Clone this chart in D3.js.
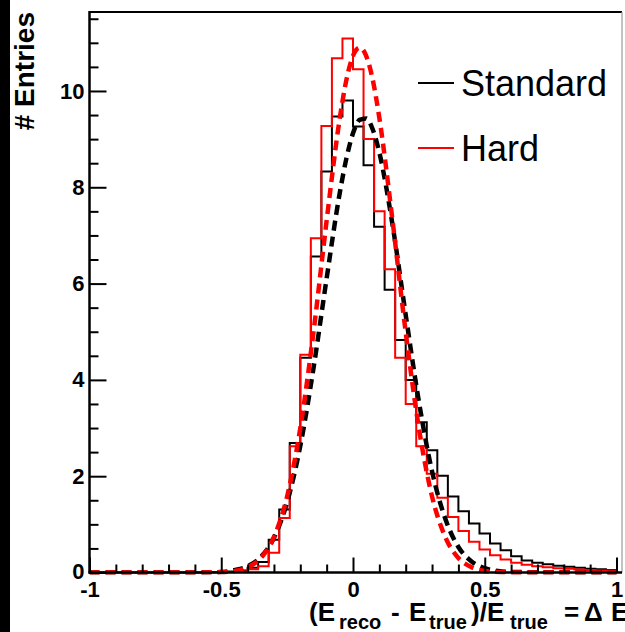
<!DOCTYPE html>
<html>
<head>
<meta charset="utf-8">
<script src="https://cdn.jsdelivr.net/npm/d3@7"></script>
<style>
  html, body { margin: 0; padding: 0; background: #fff; }
  svg { display: block; font-family: "Liberation Sans", Arial, Helvetica, sans-serif; }
</style>
</head>
<body>
<svg id="chart" width="625" height="632"></svg>
<script>
// Bin edges: 50 bins of width 0.04 over [-1, 1]
const binLow = d3.range(50).map(i => -1 + 0.04 * i);

// Entries per bin, standard reconstruction
const standardCounts = [
  0, 0, 0, 0, 0, 0, 0, 0, 0, 0,
  0, 0.01, 0.01, 0.02, 0.04, 0.10, 0.22, 0.68, 1.31, 2.69,
  4.46, 6.56, 8.33, 9.47, 9.80, 9.26, 8.46, 7.18, 5.87, 4.83,
  4.00, 3.12, 2.54, 2.01, 1.58, 1.27, 1.02, 0.81, 0.60, 0.46,
  0.34, 0.25, 0.20, 0.17, 0.14, 0.12, 0.10, 0.08, 0.07, 0.05
];

// Entries per bin, hard reconstruction
const hardCounts = [
  0, 0, 0, 0, 0, 0, 0, 0, 0, 0,
  0, 0, 0.01, 0.01, 0.02, 0.07, 0.13, 0.41, 1.13, 2.62,
  4.52, 6.94, 9.27, 10.68, 11.09, 10.45, 9.00, 7.50, 6.30, 4.46,
  3.50, 2.62, 2.05, 1.55, 1.15, 0.86, 0.64, 0.48, 0.36, 0.27,
  0.20, 0.16, 0.13, 0.11, 0.09, 0.08, 0.06, 0.05, 0.04, 0.04
];

// Fitted curves, sampled along the x axis
const fitX = [-1, -0.6, -0.5, -0.45, -0.4, -0.35, -0.3, -0.25, -0.2, -0.15, -0.1, -0.05,
              -0.025, 0, 0.025, 0.05, 0.075, 0.1, 0.15, 0.2, 0.25, 0.3, 0.35, 0.4, 0.45,
              0.5, 0.55, 0.6, 1];
const standardFit = [0, 0, 0.01, 0.05, 0.13, 0.32, 0.72, 1.46, 2.63, 4.24, 6.11, 7.89,
                     8.60, 9.12, 9.40, 9.43, 9.20, 8.72, 7.22, 5.35, 3.55, 2.10, 1.12, 0.53, 0.23,
                     0.09, 0.03, 0.01, 0];
const hardFit = [0, 0, 0.01, 0.03, 0.11, 0.30, 0.74, 1.58, 3.00, 4.99, 7.31, 9.44,
                 10.23, 10.73, 10.90, 10.73, 10.23, 9.44, 7.31, 4.99, 3.00, 1.58, 0.74, 0.30, 0.11,
                 0.03, 0.01, 0, 0];

const xMajor = [-1, -0.5, 0, 0.5, 1];
const xMinor = d3.range(-10, 11).map(i => i / 10);
const yMajor = [0, 2, 4, 6, 8, 10];
const yMinor = d3.range(0, 24).map(i => i / 2);

const legendLabels = ["Standard", "Hard"];
const colors = ["#000000", "#ff0000"];

const svg = d3.select("#chart");
const frameL = 89.5, frameR = 622, frameT = 12, frameB = 572.5;

const x = d3.scaleLinear().domain([-1, 1]).range([89.5, 616.5]);
const y = d3.scaleLinear().domain([0, 11.64]).range([frameB, frameT]);

// dark strip at the left edge
svg.append("rect").attr("x", 0).attr("y", 0).attr("width", 10).attr("height", 632).attr("fill", "#000");

svg.append("defs").append("clipPath").attr("id", "plotClip")
  .append("rect").attr("x", frameL).attr("y", frameT).attr("width", frameR - frameL).attr("height", frameB - frameT + 2);

const plot = svg.append("g").attr("clip-path", "url(#plotClip)");

// Histograms as step outlines
function stepPoints(counts) {
  const pts = binLow.map((b, i) => [b, counts[i]]);
  pts.push([1, counts[counts.length - 1]]);
  return pts;
}
const stepLine = d3.line().x(d => x(d[0])).y(d => y(d[1])).curve(d3.curveStepAfter);

[standardCounts, hardCounts].forEach((c, k) => {
  plot.append("path")
    .attr("d", stepLine(stepPoints(c)))
    .attr("fill", "none")
    .attr("stroke", colors[k])
    .attr("stroke-width", 2);
});

// Fit curves, dashed
const fitLine = d3.line().x(d => x(d[0])).y(d => y(d[1])).curve(d3.curveMonotoneX);
[standardFit, hardFit].forEach((f, k) => {
  plot.append("path")
    .attr("d", fitLine(fitX.map((v, i) => [v, f[i]])))
    .attr("fill", "none")
    .attr("stroke", colors[k])
    .attr("stroke-width", 4.5)
    .attr("stroke-dasharray", "10,6");
});

// Frame
svg.append("line").attr("x1", frameL).attr("x2", frameR).attr("y1", frameT).attr("y2", frameT)
  .attr("stroke", "#000").attr("stroke-width", 2);
svg.append("line").attr("x1", frameR).attr("x2", frameR).attr("y1", frameT).attr("y2", frameB)
  .attr("stroke", "#999").attr("stroke-width", 1.2);

// Y axis
const yAxisG = svg.append("g").attr("transform", `translate(${frameL},0)`);
yAxisG.append("g").call(d3.axisLeft(y).tickValues(yMinor.filter(v => v % 2 !== 0)).tickSize(-9).tickFormat(""));
yAxisG.append("g").call(d3.axisLeft(y).tickValues(yMajor).tickSize(-17).tickPadding(5).tickFormat(d3.format("d")));
yAxisG.selectAll(".domain").remove();
yAxisG.selectAll(".tick line").attr("stroke", "#000").attr("stroke-width", 2);
yAxisG.selectAll(".tick text")
  .attr("font-size", 22).attr("font-weight", "bold").attr("fill", "#000")
  .attr("font-family", "Liberation Sans, Arial, sans-serif");
yAxisG.selectAll(".tick text").filter(d => d === 0).attr("dy", "0.25em");
svg.append("line").attr("x1", frameL).attr("x2", frameL).attr("y1", frameT - 1).attr("y2", frameB + 1)
  .attr("stroke", "#000").attr("stroke-width", 2.5);

// X axis
const xAxisG = svg.append("g").attr("transform", `translate(0,${frameB})`);
xAxisG.append("g").call(d3.axisBottom(x).tickValues(xMinor.filter(v => Math.abs(v * 2 - Math.round(v * 2)) > 1e-6)).tickSize(-8).tickFormat(""));
xAxisG.append("g").call(d3.axisBottom(x).tickValues(xMajor).tickSize(-15).tickPadding(9).tickFormat(d => String(d)));
xAxisG.selectAll(".domain").remove();
xAxisG.selectAll(".tick line").attr("stroke", "#000").attr("stroke-width", 2);
xAxisG.selectAll(".tick text")
  .attr("font-size", 22).attr("font-weight", "bold").attr("fill", "#000")
  .attr("font-family", "Liberation Sans, Arial, sans-serif");
svg.append("line").attr("x1", frameL - 1).attr("x2", frameR).attr("y1", frameB).attr("y2", frameB)
  .attr("stroke", "#000").attr("stroke-width", 2.5);

// Y title
svg.append("text")
  .attr("transform", "translate(34,12) rotate(-90)")
  .attr("text-anchor", "end")
  .attr("font-size", 28).attr("font-weight", "bold")
  .text("# Entries");

// X title with subscripts
const xt = svg.append("text").attr("font-weight", "bold").attr("y", 621);
const parts = [
  { t: "(E", x: 309, sub: false },
  { t: "reco", x: 339, sub: true },
  { t: "-", x: 391, sub: false },
  { t: "E", x: 409, sub: false },
  { t: "true", x: 429, sub: true },
  { t: ")/E", x: 471, sub: false },
  { t: "true", x: 510, sub: true },
  { t: "=", x: 564, sub: false },
  { t: "Δ", x: 584, sub: false },
  { t: "E", x: 611, sub: false }
];
parts.forEach(p => {
  xt.append("tspan")
    .attr("x", p.x)
    .attr("y", p.sub ? 629 : 621)
    .attr("font-size", p.sub ? 20 : 26)
    .text(p.t);
});

// Legend
legendLabels.forEach((lab, k) => {
  const ly = k === 0 ? 83 : 148;
  svg.append("line").attr("x1", 418).attr("x2", 454).attr("y1", ly).attr("y2", ly)
    .attr("stroke", colors[k]).attr("stroke-width", 2);
  svg.append("text").attr("x", 461).attr("y", ly + 13)
    .attr("font-size", 36).attr("fill", "#000").text(lab);
});
</script>
</body>
</html>
